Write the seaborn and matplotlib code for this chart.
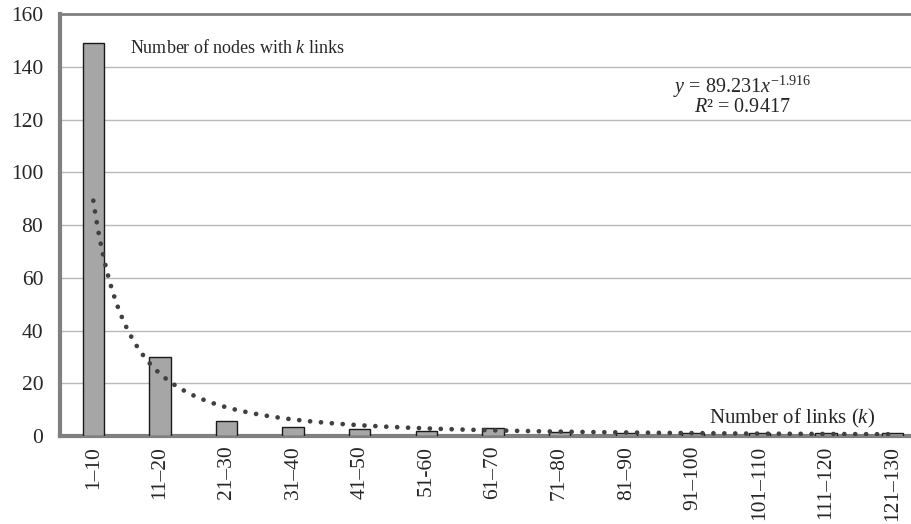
import numpy as np
import pandas as pd
import matplotlib
matplotlib.use("Agg")
import matplotlib.pyplot as plt
import seaborn as sns

sns.set_style("white")
plt.rcParams['font.family'] = ['Liberation Serif', 'DejaVu Serif']
plt.rcParams['mathtext.fontset'] = 'custom'
plt.rcParams['mathtext.rm'] = 'Liberation Serif'
plt.rcParams['mathtext.it'] = 'Liberation Serif:italic'

# data
link_bins = ["1\u201310", "11\u201320", "21\u201330", "31\u201340", "41\u201350", "51-60",
             "61\u201370", "71\u201380", "81\u201390", "91\u2013100", "101\u2013110",
             "111\u2013120", "121\u2013130"]
node_counts = [149, 30, 5.5, 3.5, 2.5, 2, 3, 1.5, 1, 1, 1, 1, 1]

# power trendline shown on the chart: y = a * x^b
fit_a = 89.231
fit_b = -1.916

df = pd.DataFrame({"bin": link_bins, "count": node_counts})

W, H = 911, 524
fig = plt.figure(figsize=(W / 100, H / 100), dpi=100)
# axes runs a little past the right edge like the original crop
ax = fig.add_axes([60 / W, (H - 436) / H, 866 / W, 422 / H])

sns.barplot(data=df, x="bin", y="count", color="#a6a6a6", width=0.32,
            edgecolor="#1a1a1a", linewidth=1.0, saturation=1, ax=ax, zorder=3)

# trendline over category index 1..13
xs = np.linspace(1, len(link_bins), 400)
ax.plot(xs - 1, fit_a * xs ** fit_b, color="#404040", linewidth=3.4,
        linestyle=(0, (0.01, 2.3)), dash_capstyle="round", zorder=4)

ax.set_xlim(-0.5, len(link_bins) - 0.5)
ax.set_ylim(0, 160)
ax.set_yticks(np.arange(0, 161, 20))
ax.yaxis.grid(True, color="#b8b8b8", linewidth=1.0, zorder=0)
ax.set_axisbelow(True)
ax.set_xlabel("")
ax.set_ylabel("")

ax.set_xticks(np.arange(len(link_bins)))
ax.set_xticklabels(link_bins, rotation=90, fontsize=15.5)
ax.tick_params(axis="x", which="major", length=0, pad=7)
ax.set_xticks(np.arange(-0.5, len(link_bins), 1), minor=True)
ax.tick_params(axis="x", which="minor", length=5, width=2, color="#808080", direction="out")
ax.tick_params(axis="y", length=0, labelsize=15.5, pad=12)

for side in ["left", "bottom", "top"]:
    ax.spines[side].set_visible(True)
    ax.spines[side].set_color("#808080")
ax.spines["left"].set_linewidth(3)
ax.spines["bottom"].set_linewidth(3)
ax.spines["top"].set_linewidth(2)
ax.spines["right"].set_visible(False)

ax.text(0.55, 147, "Number of nodes with $k$ links", fontsize=13, va="center", ha="left")
ax.text(9.74, 132.3, "$y$ = 89.231$x^{\u22121.916}$", fontsize=14.5, va="center", ha="center")
ax.text(9.74, 124.4, "$R$\u00b2 = 0.9417", fontsize=14.5, va="center", ha="center")
ax.text(11.74, 6.8, "Number of links ($k$)", fontsize=15, va="center", ha="right")

fig.savefig("out.png", dpi=100)
